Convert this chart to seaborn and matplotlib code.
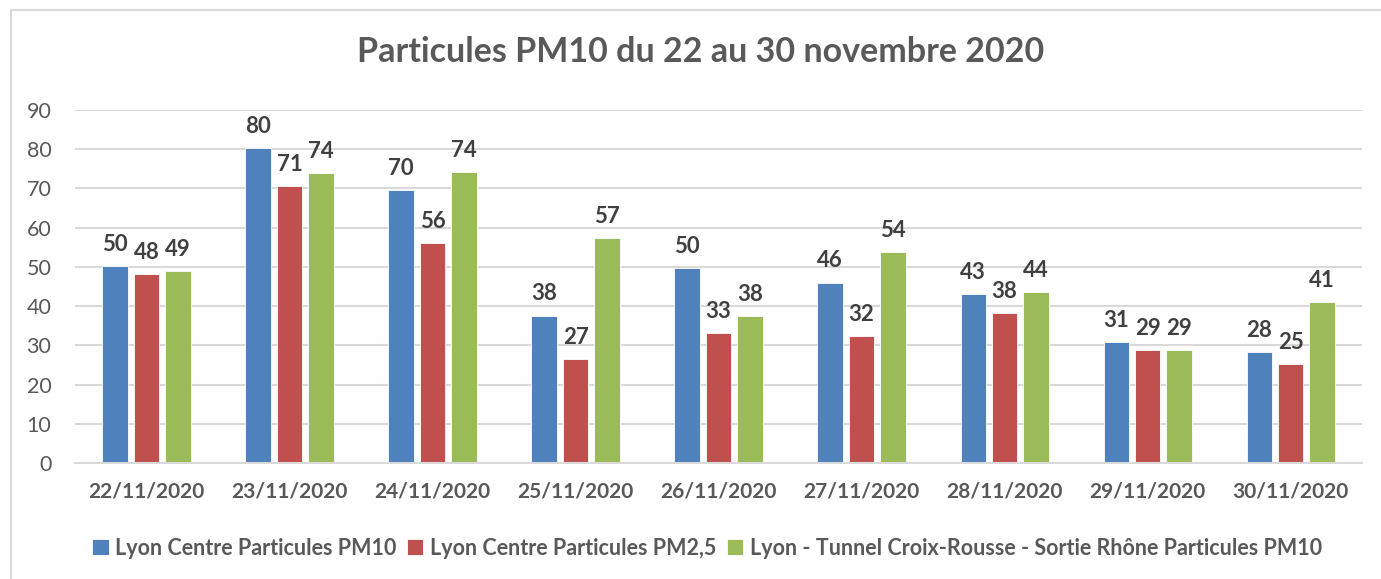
import pandas as pd
import numpy as np
import matplotlib.pyplot as plt
import seaborn as sns
from matplotlib.patches import Rectangle

# Dates and series
dates = ['22/11/2020', '23/11/2020', '24/11/2020', '25/11/2020', '26/11/2020',
         '27/11/2020', '28/11/2020', '29/11/2020', '30/11/2020']
series_names = ['Lyon Centre Particules PM10',
                'Lyon Centre Particules PM2,5',
                'Lyon - Tunnel Croix-Rousse - Sortie Rhône Particules PM10']
centre_pm10 = [50.3, 80.4, 69.6, 37.6, 49.8, 46.0, 43.1, 30.9, 28.3]
centre_pm25 = [48.1, 70.6, 56.1, 26.6, 33.1, 32.4, 38.2, 28.8, 25.3]
tunnel_pm10 = [49.0, 73.9, 74.2, 57.4, 37.5, 53.8, 43.6, 28.9, 41.0]

colors = ['#4F81BD', '#C0504D', '#9BBB59']
text_gray = '#595959'

# Long-form table for seaborn
df = pd.DataFrame({
    'date': dates * 3,
    'serie': np.repeat(series_names, len(dates)),
    'value': centre_pm10 + centre_pm25 + tunnel_pm10,
})

sns.set_style('white')
plt.rcParams['font.family'] = ['Lato', 'DejaVu Sans']

fig = plt.figure(figsize=(13.81, 5.79), dpi=100)
ax = fig.add_axes([0.0543, 0.2003, 0.932, 0.6097])

# Outer chart border
fig.patches.append(Rectangle((11 / 1381, -0.1), 1.2, 1.1 - 10 / 579, transform=fig.transFigure,
                             fill=False, edgecolor='#D9D9D9', linewidth=1.5, zorder=0))

sns.barplot(data=df, x='date', y='value', hue='serie', hue_order=series_names,
            palette=colors, width=0.66, gap=0.2, saturation=1,
            edgecolor='white', linewidth=0.6, ax=ax)

# Value labels above bars
for cont in ax.containers:
    ax.bar_label(cont, fmt='%.0f', padding=8, fontsize=16, fontweight='bold', color='#404040')

ax.set_ylim(0, 90)
ax.set_xlim(-0.5, len(dates) - 0.5)
ax.set_yticks(range(0, 91, 10))
ax.yaxis.grid(True, color='#D9D9D9', linewidth=1.5)
ax.set_axisbelow(True)
ax.set_xlabel('')
ax.set_ylabel('')

for s in ['left', 'right', 'top']:
    ax.spines[s].set_visible(False)
ax.spines['bottom'].set_color('#D9D9D9')
ax.spines['bottom'].set_linewidth(1.5)

ax.set_xticks(np.arange(-0.5, len(dates), 1), minor=True)
ax.tick_params(axis='x', which='minor', length=8, width=1.5, color='#D9D9D9')
ax.tick_params(axis='x', which='major', length=0, pad=13)
ax.tick_params(axis='y', length=0, pad=17, labelsize=15.5, labelcolor=text_gray)
for lbl in ax.get_xticklabels():
    lbl.set_fontsize(15)
    lbl.set_fontweight('bold')
    lbl.set_color(text_gray)

fig.suptitle('Particules PM10 du 22 au 30 novembre 2020', x=0.507, y=0.937,
             fontsize=24.5, fontweight='bold', color=text_gray)

handles, labels = ax.get_legend_handles_labels()
ax.get_legend().remove()
leg = fig.legend(handles, labels, loc='center', bbox_to_anchor=(0.512, 0.053), ncol=3,
                 frameon=False, handlelength=0.75, handleheight=0.75, handletextpad=0.3,
                 columnspacing=0.5, prop={'size': 15.5, 'weight': 'bold'})
for t in leg.get_texts():
    t.set_color(text_gray)

fig.savefig('out.png', dpi=100)
